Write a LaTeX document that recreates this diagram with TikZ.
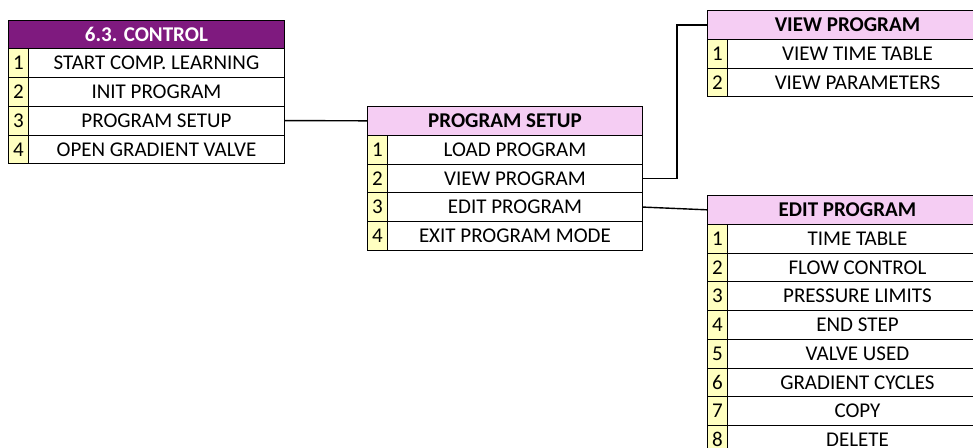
\documentclass[tikz,border=0pt]{standalone}
\usepackage{fontspec}
\setmainfont{Carlito}
\definecolor{hdrpurple}{HTML}{7F1A7F}
\definecolor{hdrpink}{HTML}{F5CDF3}
\definecolor{numyellow}{HTML}{FFFFC0}

% One menu table: name, x, y (top), total width, header style, title, items
\newcommand\menutable[7]{%
  \node[cell, #5, minimum width=#4] (#1-h) at (#2,#3) {#6};
  \foreach \txt [count=\i] in {#7} {
    \pgfmathsetmacro\rowy{#3+\i*28.75}
    \pgfmathsetmacro\itemw{#4-20}
    \node[numcell] (#1-n\i) at (#2,\rowy) {\i};
    \node[cell, fill=white, minimum width=\itemw] (#1-\i) at (#2+20,\rowy) {\txt};
  }%
}

\begin{document}
\begin{tikzpicture}[x=1pt,y=-1pt,
  cell/.style={draw, line width=0.9pt, inner sep=0pt, anchor=north west,
    minimum height=28.75pt, font=\fontsize{21}{24}\selectfont},
  numcell/.style={cell, fill=numyellow, minimum width=20pt},
  darkhead/.style={fill=hdrpurple, text=white, font=\fontsize{21}{24}\selectfont\bfseries},
  lighthead/.style={fill=hdrpink, font=\fontsize{21}{24}\selectfont\bfseries},
  link/.style={draw, line width=1.4pt}]
\useasboundingbox[fill=white] (0,0) rectangle (973,447);

\menutable{ctl}{8}{19.5}{276}{darkhead}{6.3. CONTROL}
  {START COMP. LEARNING, INIT PROGRAM, PROGRAM SETUP, OPEN GRADIENT VALVE}
\menutable{ps}{367}{106}{275}{lighthead}{PROGRAM SETUP}
  {LOAD PROGRAM, VIEW PROGRAM, EDIT PROGRAM, EXIT PROGRAM MODE}
\menutable{vp}{707}{10}{280}{lighthead}{VIEW PROGRAM}
  {VIEW TIME TABLE, VIEW PARAMETERS}
\menutable{ep}{707}{195}{280}{lighthead}{EDIT PROGRAM}
  {TIME TABLE, FLOW CONTROL, PRESSURE LIMITS, END STEP, VALVE USED, GRADIENT CYCLES, COPY, DELETE}

\path[link] (ctl-3.east) -- (ps-h.west);
\path[link] (ps-2.east) -- ++(34,0) |- (vp-h.west);
\path[link] (ps-3.east) -- (ep-h.west);
\end{tikzpicture}
\end{document}
